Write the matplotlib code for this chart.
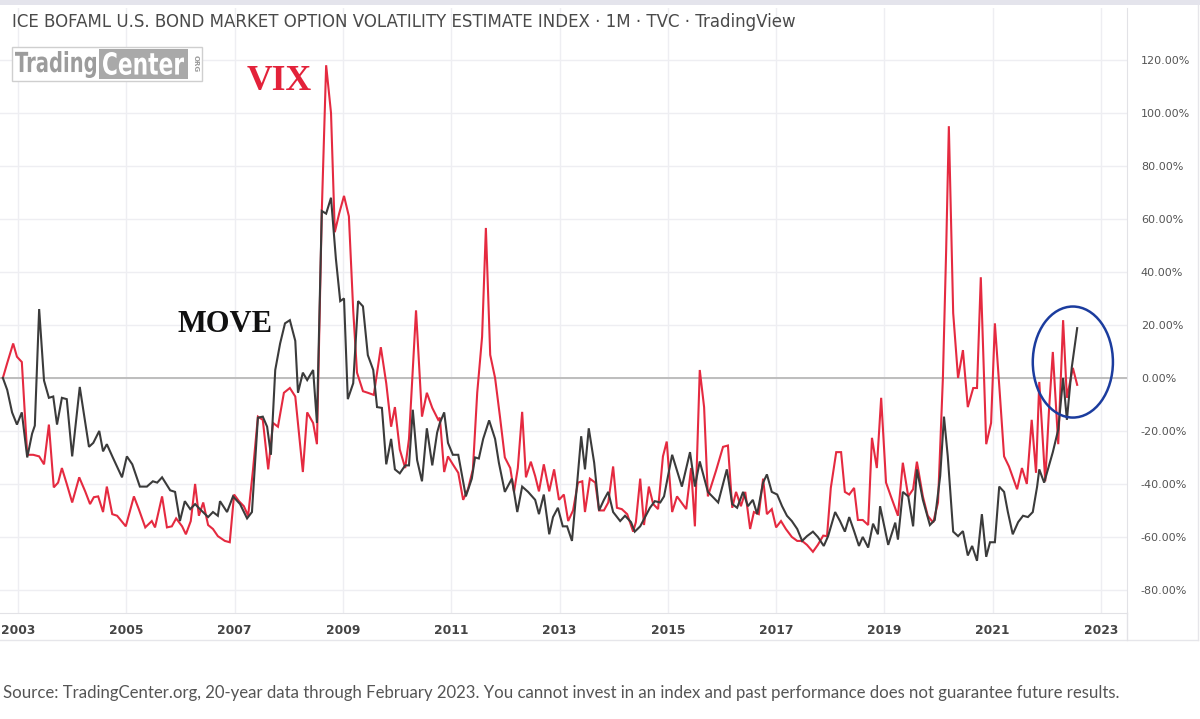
import matplotlib
matplotlib.use("Agg")
import matplotlib.pyplot as plt
from matplotlib.patches import Ellipse, Rectangle, PathPatch
from matplotlib.lines import Line2D
from matplotlib.textpath import TextPath
from matplotlib.font_manager import FontProperties
from matplotlib.transforms import Affine2D

# MOVE index, % change (decimal year, value)
move_dates = [2002.72, 2002.80, 2002.89, 2002.98, 2003.07, 2003.17, 2003.26, 2003.31, 2003.39, 2003.48,
              2003.57, 2003.65, 2003.72, 2003.81, 2003.90, 2004.00, 2004.14, 2004.31, 2004.39, 2004.50,
              2004.57, 2004.64, 2004.75, 2004.92, 2005.01, 2005.11, 2005.25, 2005.38, 2005.49, 2005.57,
              2005.66, 2005.81, 2005.90, 2005.99, 2006.08, 2006.18, 2006.27, 2006.36, 2006.51, 2006.60,
              2006.69, 2006.73, 2006.86, 2006.97, 2007.10, 2007.23, 2007.32, 2007.43, 2007.52, 2007.60,
              2007.67, 2007.75, 2007.84, 2007.93, 2008.02, 2008.12, 2008.17, 2008.26, 2008.34, 2008.45,
              2008.52, 2008.61, 2008.69, 2008.78, 2008.87, 2008.95, 2009.02, 2009.09, 2009.19, 2009.28,
              2009.37, 2009.46, 2009.56, 2009.63, 2009.72, 2009.80, 2009.89, 2009.96, 2010.05, 2010.15,
              2010.22, 2010.29, 2010.37, 2010.46, 2010.55, 2010.65, 2010.74, 2010.79, 2010.87, 2010.94,
              2011.03, 2011.13, 2011.27, 2011.38, 2011.44, 2011.51, 2011.59, 2011.70, 2011.81, 2011.88,
              2011.99, 2012.12, 2012.22, 2012.31, 2012.42, 2012.55, 2012.62, 2012.71, 2012.81, 2012.88,
              2012.97, 2013.06, 2013.14, 2013.23, 2013.32, 2013.40, 2013.47, 2013.54, 2013.64, 2013.73,
              2013.82, 2013.90, 2013.99, 2014.12, 2014.21, 2014.32, 2014.39, 2014.49, 2014.58, 2014.67,
              2014.76, 2014.86, 2014.93, 2015.08, 2015.26, 2015.41, 2015.50, 2015.59, 2015.74, 2015.93,
              2016.09, 2016.19, 2016.28, 2016.39, 2016.48, 2016.57, 2016.65, 2016.76, 2016.83, 2016.92,
              2017.02, 2017.11, 2017.20, 2017.29, 2017.39, 2017.48, 2017.57, 2017.68, 2017.77, 2017.88,
              2017.96, 2018.09, 2018.18, 2018.27, 2018.35, 2018.44, 2018.53, 2018.60, 2018.70, 2018.79,
              2018.88, 2018.92, 2019.07, 2019.20, 2019.25, 2019.34, 2019.44, 2019.53, 2019.60, 2019.71,
              2019.84, 2019.93, 2020.03, 2020.10, 2020.17, 2020.27, 2020.36, 2020.45, 2020.54, 2020.62,
              2020.71, 2020.80, 2020.88, 2020.95, 2021.04, 2021.12, 2021.21, 2021.28, 2021.37, 2021.47,
              2021.56, 2021.65, 2021.74, 2021.82, 2021.86, 2021.95, 2022.02, 2022.11, 2022.21, 2022.30,
              2022.37, 2022.46, 2022.56]
move_vals = [0, -4.5, -13, -17.6, -13, -30, -21, -18, 26, -1,
             -7.5, -7, -17.6, -7.5, -8, -29.6, -3.4, -26, -24.5, -20,
             -27.7, -25, -30, -37.5, -29.6, -32.6, -41, -41, -39, -39.5,
             -37.5, -42.4, -43, -54, -46.5, -49.5, -47.6, -49.5, -52.5, -50.6,
             -52, -46.5, -50.6, -44.7, -47.6, -53, -50.6, -15, -14.6, -18.4,
             -29, 3, 13, 20.6, 21.8, 14, -5.6, 2, -0.8, 3,
             -17, 63, 62, 68, 45, 29, 30, -8, -2, 29,
             27, 8.6, 3, -11, -11.3, -32.6, -23, -34.5, -36, -33,
             -33, -12, -31, -39, -19, -33, -20.6, -17, -13, -24.5,
             -29, -29, -44.7, -38, -30, -30.4, -23, -16, -23, -32,
             -43, -38, -50.6, -41, -43, -46, -51.4, -44, -59, -52.5,
             -49, -56, -56, -61.5, -41, -22, -34.5, -19, -32, -50,
             -46, -43, -50.6, -54, -52, -54.4, -58, -56, -52.5, -49,
             -46.5, -47, -44.7, -29, -41, -28, -41, -31.5, -43, -47,
             -34.5, -47.6, -49, -43, -48.4, -46, -51.4, -39.5, -36.4, -43,
             -44, -48.4, -52, -54, -57, -61.5, -59.7, -58, -60, -63.4,
             -59.7, -50.6, -54, -58, -52.5, -57.8, -63.4, -60, -64, -55,
             -59, -48.4, -63, -54.6, -61, -43, -44.7, -56, -34.5, -46,
             -55.5, -53.6, -37, -14.6, -29.6, -58, -59.7, -57.8, -67, -63.4,
             -69, -51.4, -67.5, -62, -62, -41, -43, -50.6, -59, -54.4,
             -52, -52.5, -50.6, -41, -34.5, -39.5, -34.5, -28, -19.5, 0,
             -15.8, 4, 18.8]

# VIX, % change (decimal year, value)
vix_dates = [2002.72, 2002.80, 2002.91, 2002.98, 2003.07, 2003.17, 2003.28, 2003.39, 2003.48, 2003.57,
             2003.66, 2003.74, 2003.81, 2003.90, 2004.00, 2004.13, 2004.24, 2004.33, 2004.40, 2004.48,
             2004.57, 2004.64, 2004.74, 2004.83, 2004.99, 2005.14, 2005.23, 2005.35, 2005.47, 2005.53,
             2005.66, 2005.75, 2005.84, 2005.92, 2006.03, 2006.10, 2006.19, 2006.27, 2006.34, 2006.42,
             2006.51, 2006.60, 2006.69, 2006.82, 2006.91, 2006.99, 2007.08, 2007.17, 2007.25, 2007.34,
             2007.43, 2007.52, 2007.62, 2007.71, 2007.80, 2007.91, 2008.02, 2008.12, 2008.26, 2008.34,
             2008.45, 2008.52, 2008.61, 2008.69, 2008.78, 2008.85, 2008.93, 2009.02, 2009.11, 2009.19,
             2009.26, 2009.37, 2009.46, 2009.57, 2009.70, 2009.80, 2009.89, 2009.96, 2010.05, 2010.15,
             2010.22, 2010.35, 2010.46, 2010.55, 2010.65, 2010.76, 2010.79, 2010.87, 2010.94, 2011.03,
             2011.13, 2011.22, 2011.31, 2011.40, 2011.48, 2011.57, 2011.64, 2011.72, 2011.81, 2011.90,
             2011.99, 2012.09, 2012.16, 2012.23, 2012.31, 2012.38, 2012.47, 2012.55, 2012.62, 2012.71,
             2012.81, 2012.90, 2012.99, 2013.08, 2013.16, 2013.25, 2013.34, 2013.42, 2013.47, 2013.56,
             2013.66, 2013.73, 2013.82, 2013.90, 2013.99, 2014.06, 2014.15, 2014.25, 2014.36, 2014.41,
             2014.49, 2014.56, 2014.65, 2014.73, 2014.82, 2014.91, 2014.98, 2015.08, 2015.17, 2015.34,
             2015.43, 2015.50, 2015.59, 2015.67, 2015.74, 2015.89, 2016.02, 2016.11, 2016.19, 2016.26,
             2016.35, 2016.43, 2016.52, 2016.59, 2016.68, 2016.76, 2016.83, 2016.92, 2017.00, 2017.09,
             2017.18, 2017.29, 2017.39, 2017.48, 2017.57, 2017.68, 2017.77, 2017.87, 2017.94, 2018.01,
             2018.11, 2018.20, 2018.27, 2018.35, 2018.44, 2018.51, 2018.60, 2018.70, 2018.77, 2018.86,
             2018.94, 2019.03, 2019.12, 2019.25, 2019.34, 2019.44, 2019.53, 2019.60, 2019.71, 2019.80,
             2019.90, 2019.99, 2020.08, 2020.14, 2020.19, 2020.27, 2020.36, 2020.45, 2020.54, 2020.64,
             2020.71, 2020.78, 2020.88, 2020.97, 2021.04, 2021.13, 2021.21, 2021.30, 2021.45, 2021.54,
             2021.63, 2021.72, 2021.80, 2021.86, 2021.97, 2022.04, 2022.11, 2022.21, 2022.30, 2022.37,
             2022.48, 2022.56]
vix_vals = [0, 5.6, 13, 8, 6, -29, -29, -29.6, -32.6, -17.6,
            -41.3, -39.5, -34, -40, -47, -37.5, -42.8, -47.6, -45, -44.7,
            -50.6, -41, -51.4, -52, -56, -44.7, -49.5, -56.4, -54, -56.4,
            -44.7, -56.4, -56, -53, -56, -59, -54, -40, -52, -47,
            -55.5, -57, -59.7, -61.5, -62, -44, -46.5, -48.4, -52, -34.5,
            -14.6, -15.8, -34.5, -17, -18.4, -5.6, -3.8, -7, -35.5, -13,
            -17, -25, 63, 118, 100, 55, 62, 68.7, 61, 25.5,
            2, -5, -5.6, -6.4, 11.6, -2, -18.4, -11, -27, -34,
            -23, 25.5, -14.6, -5.6, -11.3, -15.8, -15, -35.5, -29.6, -32.6,
            -35.8, -46, -42, -34.5, -5.6, 15.5, 56.6, 8.7, 0, -14.6,
            -30, -34, -43, -34, -12.8, -37.5, -31.6, -37, -42.8, -32.6,
            -42.8, -34.5, -46, -44, -54, -50, -39.5, -39, -50.6, -38,
            -39.5, -50, -50, -47, -33.4, -49, -49.5, -51.4, -58, -54.4,
            -38, -55.5, -41, -47.6, -49.5, -29.6, -24, -50.6, -44.7, -49.5,
            -34, -56, 3, -11, -44.7, -35, -26, -25.5, -49, -43,
            -48.4, -43, -57, -50.6, -51.4, -38, -51.4, -49.5, -56.4, -54,
            -57, -60, -61.5, -61.5, -63, -65.6, -63, -59.5, -59.7, -41.5,
            -28, -28, -43, -44, -41.5, -53.6, -53.6, -55.5, -22.6, -34,
            -7.5, -39.5, -44.7, -52, -32, -44.7, -42, -31.6, -44.7, -52,
            -54.6, -47, 0, 48, 95, 24.5, 0, 10.5, -11, -3.8,
            -3.8, 38, -25, -17, 20.6, -5.6, -29.6, -33.4, -42, -34,
            -40, -15.8, -35.8, -1.5, -39, -12, 9.8, -25, 21.8, -7.5,
            3.8, -2.6]

year_ticks = list(range(2003, 2024, 2))
pct_ticks = list(range(-80, 121, 20))

title = "ICE BOFAML U.S. BOND MARKET OPTION VOLATILITY ESTIMATE INDEX · 1M · TVC · TradingView"
source = ("Source: TradingCenter.org, 20-year data through February 2023. You cannot invest in an index "
          "and past performance does not guarantee future results.")

W, H = 1200, 719
fig = plt.figure(figsize=(W / 100, H / 100), dpi=100)
fig.patch.set_facecolor("white")


def fx(px):
    return px / W


def fy(py):
    return 1 - py / H


renderer = fig.canvas.get_renderer()


def fit(t, width_px):
    bb = t.get_window_extent(renderer)
    t.set_fontsize(t.get_fontsize() * width_px / bb.width)


def squeezed_word(s, x0, y_top, w, h, color):
    # bold word squeezed into a box (pixel coords from top left), like a condensed logo font
    tp = TextPath((0, 0), s, size=40, prop=FontProperties(family="DejaVu Sans", weight="bold"))
    bb = tp.get_extents()
    tr = (Affine2D().translate(-bb.x0, -bb.y0)
          .scale(w / bb.width, h / bb.height)
          .translate(x0, H - y_top - h))
    fig.add_artist(PathPatch(tp, transform=tr, facecolor=color, edgecolor="none", zorder=7))


# plot area: x 0..1127 px, y 8..613 px
ax = fig.add_axes([0, fy(613), fx(1127), (613 - 8) / H])
ax.set_xlim(2002.667, 2023.48)
ax.set_ylim(-88.7, 139.6)

ax.grid(True, color="#eeeef2", lw=1)
ax.set_axisbelow(True)
ax.axhline(0, color="#bdbdbd", lw=1.4, zorder=1)

ax.plot(vix_dates, vix_vals, color="#e52a40", lw=1.5, zorder=3, solid_joinstyle="miter")
ax.plot(move_dates, move_vals, color="#3b3b3b", lw=1.5, zorder=4, solid_joinstyle="miter")

ax.add_patch(Ellipse((2022.48, 6.0), 1.48, 41.9, fill=False, edgecolor="#1b3c9e", lw=1.8, zorder=5))

ax.set_xticks(year_ticks)
ax.set_xticklabels([str(y) for y in year_ticks])
ax.set_yticks(pct_ticks)
ax.set_yticklabels(["%.2f%%" % v for v in pct_ticks])
ax.yaxis.tick_right()
ax.tick_params(axis="x", length=0, pad=8, labelsize=8.8, labelcolor="#444444")
ax.tick_params(axis="y", length=0, pad=10, labelsize=8, labelcolor="#555555")
for lab in ax.get_xticklabels():
    lab.set_fontweight("bold")
for s in ["top", "left"]:
    ax.spines[s].set_visible(False)
ax.spines["bottom"].set_color("#e2e2e6")
ax.spines["right"].set_color("#e2e2e6")

# frame bits around the chart
fig.patches.append(Rectangle((0, fy(5)), 1, 5 / H, transform=fig.transFigure,
                             facecolor="#e4e4ec", edgecolor="none"))
fig.lines.append(Line2D([0, fx(1198)], [fy(640), fy(640)], transform=fig.transFigure,
                        color="#e6e6ea", lw=1))
fig.lines.append(Line2D([fx(1127), fx(1127)], [fy(613), fy(640)], transform=fig.transFigure,
                        color="#e2e2e6", lw=1))
fig.lines.append(Line2D([fx(1198), fx(1198)], [fy(5), fy(640)], transform=fig.transFigure,
                        color="#e6e6ea", lw=1))

# title
t = fig.text(fx(12), fy(22), title, ha="left", va="center", fontsize=11, color="#4a4a4a",
             family="DejaVu Sans")
fit(t, 783)

# TradingCenter logo
fig.patches.append(Rectangle((fx(12), fy(81)), fx(190), 34 / H, transform=fig.transFigure,
                             facecolor="white", edgecolor="#cfcfcf", lw=1, zorder=5))
fig.patches.append(Rectangle((fx(99), fy(79)), fx(89), 30 / H, transform=fig.transFigure,
                             facecolor="#a9a9a9", edgecolor="none", zorder=6))
squeezed_word("Trading", 15, 51, 81, 27, "#9c9c9c")
squeezed_word("Center", 103, 52, 81, 23, "white")
fig.text(fx(196), fy(64), "ORG", ha="center", va="center", fontsize=5, color="#9a9a9a",
         rotation=-90, weight="bold", zorder=7)

# series labels
t = fig.text(fx(247), fy(82), "VIX", ha="left", va="center", fontsize=26, color="#e3223a",
             weight="bold", family="Liberation Serif")
fit(t, 65)
t = fig.text(fx(178), fy(324), "MOVE", ha="left", va="center", fontsize=22, color="#111111",
             weight="bold", family="Liberation Serif")
fit(t, 95)

# source line
t = fig.text(fx(3), fy(693), source, ha="left", va="center", fontsize=12, color="#555555",
             family="Lato")
fit(t, 1108)

fig.savefig("out.png", dpi=100)
